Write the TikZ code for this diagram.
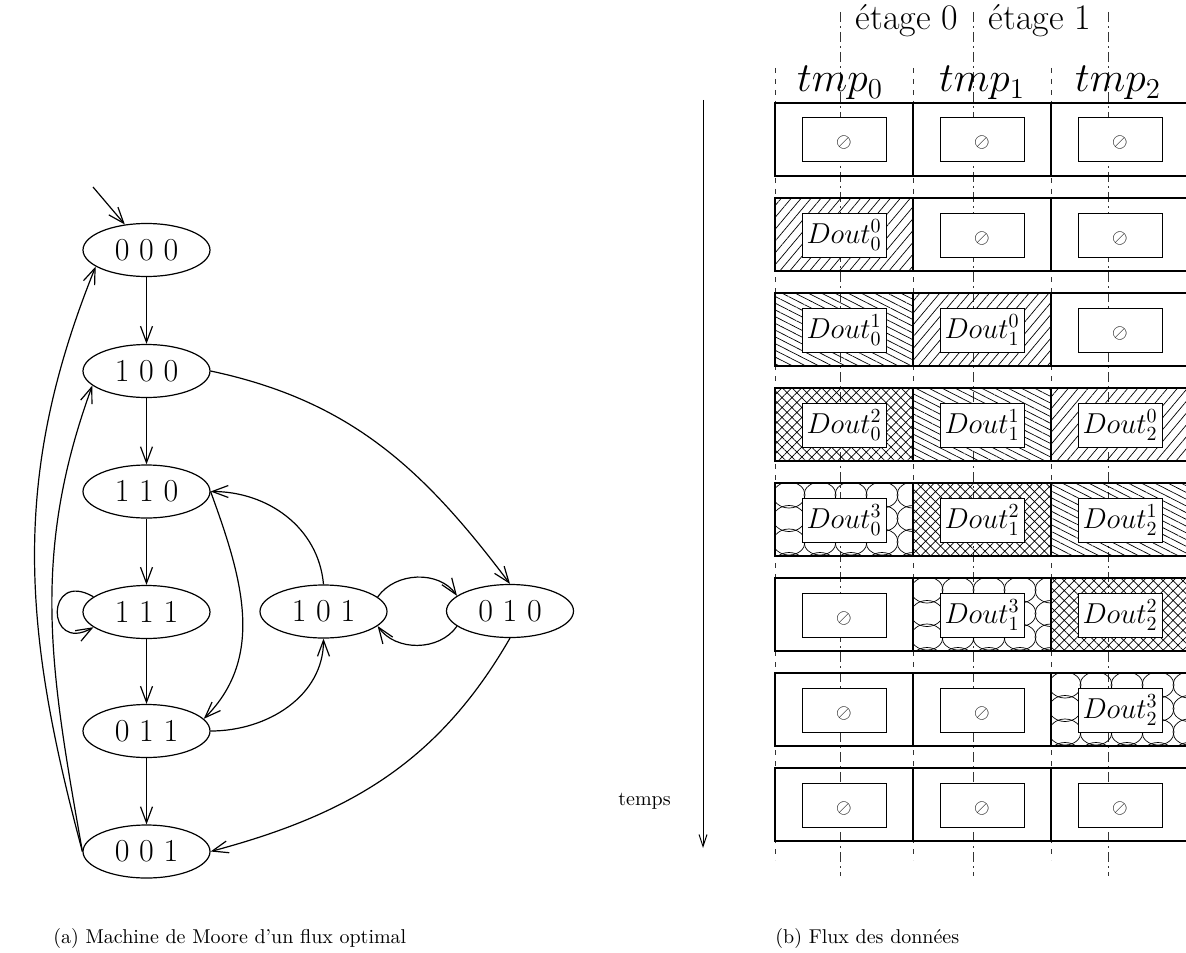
\documentclass[tikz,border=0pt]{standalone}
\usepackage{fontspec}
\usetikzlibrary{shapes.geometric,arrows.meta,patterns.meta}

\begin{document}
\begin{tikzpicture}[x=0.5pt,y=-0.5pt,
  state/.style={ellipse,draw,line width=0.6pt,minimum width=63.5pt,minimum height=26.5pt,
    inner sep=0pt,font=\fontsize{16}{19}\selectfont},
  trans/.style={line width=0.6pt,-{Straight Barb[length=8pt,width=6pt]}},
  cellbox/.style={draw,line width=0.6pt},
  slot/.style={draw,fill=white,line width=0.5pt,minimum width=42pt,minimum height=22pt,
    inner sep=0pt,font=\Large},
  caption/.style={anchor=base west,inner sep=0pt,font=\fontsize{10}{12}\selectfont},
  colsep/.style={line width=0.4pt,black!80,dash pattern=on 2.5pt off 3pt},
  stagesep/.style={line width=0.4pt,black!80,dash pattern=on 5pt off 2pt on 1pt off 2pt},
  hatchA/.style={pattern={Lines[angle=50,distance=3.8pt,line width=0.35pt]}},
  hatchB/.style={pattern={Lines[angle=-27,distance=3pt,line width=0.35pt]}},
  hatchC/.style={pattern={Hatch[angle=45,distance=3.5pt,line width=0.35pt]}},
  scallop/.style={line width=0.35pt}
]
\useasboundingbox (0,0) rectangle (1186,952);
\clip (0,0) rectangle (1186,952);

% ---------- Moore machine ----------
\node[state] (n000) at (146.5,250) {0 0 0};
\node[state] (n100) at (146.5,371) {1 0 0};
\node[state] (n110) at (146.5,491.5) {1 1 0};
\node[state] (n111) at (146.5,612) {1 1 1};
\node[state] (n011) at (146.5,731) {0 1 1};
\node[state] (n001) at (146.5,851.5) {0 0 1};
\node[state] (n101) at (323.5,611.5) {1 0 1};
\node[state] (n010) at (510,611) {0 1 0};
\coordinate (init) at (93,187);

\draw[trans] (init) -- (n000);
\draw[trans] (n000) -- (n100);
\draw[trans] (n100) -- (n110);
\draw[trans] (n110) -- (n111);
\draw[trans] (n111) -- (n011);
\draw[trans] (n011) -- (n001);
\draw[trans] (n100.east) to[out=-12,in=127] (n010.north);
\draw[trans] (n110.east) to[out=-70,in=45] (n011.12);
\draw[trans] (n101.north) to[out=95,in=0] (n110.east);
\draw[trans] (n011.east) to[out=0,in=-90] (n101.south);
\draw[trans] (n101.15) to[out=55,in=125] (n010.164);
\draw[trans] (n010.196) to[out=-125,in=-55] (n101.345);
\draw[trans] (n010.south) to[out=-120,in=15] (n001.east);
\draw[trans] (n111.164) .. controls +(-48,-28) and +(-48,27) .. (n111.196);
\draw[trans] (n001.west) to[out=105,in=248] (n000.198);
\draw[trans] (n001.west) to[out=100,in=250] (n100.195);

\node[caption] (capa) at (53,943) {(a) Machine de Moore d’un flux optimal};

% ---------- data flow ----------
\foreach \x in {775,913,1051} \draw[colsep] (\x,68) -- (\x,860);
\foreach \x in {840,973,1108} \draw[stagesep] (\x,12) -- (\x,876);

\node[anchor=base,font=\fontsize{18}{21}\selectfont] (st0) at (907,30) {étage 0};
\node[anchor=base,font=\fontsize{18}{21}\selectfont] (st1) at (1040,30) {étage 1};
\node[anchor=base,font=\fontsize{20}{24}\selectfont] (tmp0) at (840,92) {$tmp_0$};
\node[anchor=base,font=\fontsize{20}{24}\selectfont] (tmp1) at (982,92) {$tmp_1$};
\node[anchor=base,font=\fontsize{20}{24}\selectfont] (tmp2) at (1118,92) {$tmp_2$};

\foreach \r in {0,...,7} {
  \foreach \c in {0,1,2} {
    \pgfmathsetmacro\ytop{103+95*\r}
    \pgfmathsetmacro\xl{775+138*\c}
    \pgfmathtruncatemacro\k{\r-1-\c}
    \ifnum\k=0 \fill[hatchA] (\xl,\ytop) rectangle ++(138,73); \fi
    \ifnum\k=1 \fill[hatchB] (\xl,\ytop) rectangle ++(138,73); \fi
    \ifnum\k=2 \fill[hatchC] (\xl,\ytop) rectangle ++(138,73); \fi
    \ifnum\k=3
      \begin{scope}
        \clip (\xl,\ytop) rectangle ++(138,73);
        \foreach \i in {0,...,4} \foreach \j in {0,...,3}
          \draw[scallop] (\xl+14+31*\i,\ytop+12+23.5*\j) ellipse [x radius=16,y radius=13];
      \end{scope}
    \fi
    \draw[cellbox] (\xl,\ytop) rectangle ++(138,73);
    \pgfmathtruncatemacro\isdata{and(\k>=0,\k<=3)}
    \ifnum\isdata=1
      \node[slot] (s-\r-\c) at (\xl+69,\ytop+37) {$Dout_{\c}^{\k}$};
    \else
      \node[slot] (s-\r-\c) at (\xl+69,\ytop+37) {};
      \node (z-\r-\c) at (\xl+69,\ytop+40) {$\oslash$};
    \fi
  }
}

\coordinate (t0) at (703,100);
\coordinate (t1) at (703,848);
\draw[line width=0.5pt,-{Straight Barb[length=6pt,width=4pt]}] (t0) -- (t1);
\node[anchor=base west,inner sep=0pt] (temps) at (618,805) {temps};

\node[caption] (capb) at (775,943) {(b) Flux des données};
\end{tikzpicture}
\end{document}
